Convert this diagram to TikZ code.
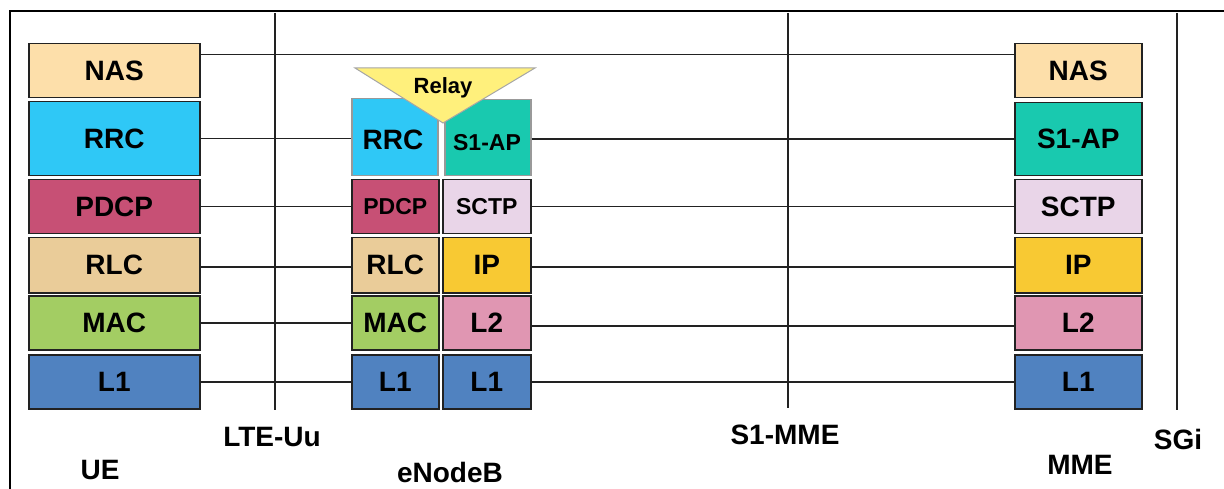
\documentclass[tikz,border=0pt]{standalone}
\usepackage{fontspec}
\setmainfont{Liberation Sans}
\usetikzlibrary{calc}

\definecolor{cNAS}{HTML}{FDDFAA}
\definecolor{cRRC}{HTML}{2FC8F6}
\definecolor{cPDCP}{HTML}{C75075}
\definecolor{cRLC}{HTML}{EACC99}
\definecolor{cMAC}{HTML}{A3CD63}
\definecolor{cLone}{HTML}{5082C0}
\definecolor{cSAP}{HTML}{19C9AF}
\definecolor{cSCTP}{HTML}{E9D5E8}
\definecolor{cIP}{HTML}{F8C933}
\definecolor{cLtwo}{HTML}{E096B2}
\definecolor{cRelay}{HTML}{FFF07C}
\definecolor{lineGray}{HTML}{222222}

\tikzset{
  layer/.style={draw=lineGray, line width=1.5pt, anchor=north west, inner sep=0pt,
    font=\fontsize{28}{30}\selectfont\bfseries, text=black},
  softlayer/.style={layer, draw=black!40},
  smalltext/.style={font=\fontsize{23}{25}\selectfont\bfseries},
  link/.style={draw=lineGray, line width=1.5pt},
  iface/.style={draw=lineGray, line width=1.6pt},
  frameline/.style={draw=black, line width=2pt},
  caption/.style={font=\fontsize{28}{30}\selectfont\bfseries, text=black, inner sep=0pt},
}

\begin{document}
\begin{tikzpicture}[x=1pt, y=-1pt]
\useasboundingbox (0,0) rectangle (1224,489);

% outer frame (top and left edges)
\draw[frameline] (10,489) -- (10,11) -- (1224,11);

% interface lines
\coordinate (uuTop) at (275,13);  \coordinate (uuBot) at (275,410);
\coordinate (smTop) at (788,13);  \coordinate (smBot) at (788,408);
\coordinate (sgTop) at (1177,13); \coordinate (sgBot) at (1177,410);
\draw[iface] (uuTop) -- (uuBot);
\draw[iface] (smTop) -- (smBot);
\draw[iface] (sgTop) -- (sgBot);

% UE stack
\node[layer, fill=cNAS,  minimum width=171pt, minimum height=54pt] (ueNAS)  at (28,43)  {NAS};
\node[layer, fill=cRRC,  minimum width=171pt, minimum height=74pt] (ueRRC)  at (28,101) {RRC};
\node[layer, fill=cPDCP, minimum width=171pt, minimum height=54pt] (uePDCP) at (28,179) {PDCP};
\node[layer, fill=cRLC,  minimum width=171pt, minimum height=55pt] (ueRLC)  at (28,237) {RLC};
\node[layer, fill=cMAC,  minimum width=171pt, minimum height=54pt] (ueMAC)  at (28,295) {MAC};
\node[layer, fill=cLone, minimum width=171pt, minimum height=54pt] (ueLone) at (28,354) {L1};

% eNodeB radio side
\node[softlayer, fill=cRRC, minimum width=86pt, minimum height=77pt] (enRRC) at (351,98) {};
\node[layer, smalltext, fill=cPDCP, minimum width=87pt, minimum height=54pt] (enPDCP) at (351,179) {PDCP};
\node[layer, fill=cRLC,  minimum width=87pt, minimum height=55pt] (enRLC)  at (351,237) {RLC};
\node[layer, fill=cMAC,  minimum width=87pt, minimum height=54pt] (enMAC)  at (351,295) {MAC};
\node[layer, fill=cLone, minimum width=87pt, minimum height=54pt] (enLone) at (351,354) {L1};

% eNodeB S1 side
\node[softlayer, fill=cSAP, minimum width=86pt, minimum height=76pt] (enSAP) at (444,99) {};
\node[layer, smalltext, fill=cSCTP, minimum width=88pt, minimum height=54pt] (enSCTP) at (442,179) {SCTP};
\node[layer, fill=cIP,   minimum width=88pt, minimum height=55pt] (enIP)   at (442,237) {IP};
\node[layer, fill=cLtwo, minimum width=88pt, minimum height=54pt] (enLtwo) at (442,295) {L2};
\node[layer, fill=cLone, minimum width=88pt, minimum height=54pt] (enLoneS) at (442,354) {L1};

% relay between RRC and S1-AP
\coordinate (relA) at (355,68);
\coordinate (relB) at (535,68);
\coordinate (relC) at (443,123);
\draw[fill=cRelay, draw=black!35, line width=1pt, line join=miter] (relA) -- (relB) -- (relC) -- cycle;
\node[caption, font=\fontsize{22}{24}\selectfont\bfseries] (relay) at (443,88) {Relay};
\node[caption] (enRRCtxt) at (393,140) {RRC};
\node[caption, font=\fontsize{23}{25}\selectfont\bfseries] (enSAPtxt) at (487,143) {S1-AP};

% MME stack
\node[layer, fill=cNAS,  minimum width=127pt, minimum height=54pt] (mmNAS)  at (1014,43)  {NAS};
\node[layer, fill=cSAP,  minimum width=127pt, minimum height=73pt] (mmSAP)  at (1014,102) {S1-AP};
\node[layer, fill=cSCTP, minimum width=127pt, minimum height=54pt] (mmSCTP) at (1014,179) {SCTP};
\node[layer, fill=cIP,   minimum width=127pt, minimum height=55pt] (mmIP)   at (1014,237) {IP};
\node[layer, fill=cLtwo, minimum width=127pt, minimum height=54pt] (mmLtwo) at (1014,295) {L2};
\node[layer, fill=cLone, minimum width=127pt, minimum height=54pt] (mmLone) at (1014,354) {L1};

% peer links
\draw[link] ([yshift=16pt]ueNAS.east) -- ([yshift=16pt]mmNAS.west);
\draw[link] (ueRRC.east)  -- (enRRC.west |- ueRRC.east);
\draw[link] (uePDCP.east) -- (enPDCP.west);
\draw[link] ([yshift=-2pt]ueRLC.east) -- ([yshift=-2pt]enRLC.west);
\draw[link] (ueMAC.east)  -- (enMAC.west);
\draw[link] (ueLone.east) -- (enLone.west);

\draw[link] (enSAP.east |- mmSAP.west) -- (mmSAP.west);
\draw[link] (enSCTP.east) -- (mmSCTP.west);
\draw[link] ([yshift=-2pt]enIP.east) -- ([yshift=-2pt]mmIP.west);
\draw[link] ([yshift=-3pt]enLtwo.east) -- ([yshift=-3pt]mmLtwo.west);
\draw[link] (enLoneS.east) -- (mmLone.west);

% interface and entity names
\node[caption] (lteuu) at (272,437) {LTE-Uu};
\node[caption] (ue)    at (100,470) {UE};
\node[caption] (enb)   at (450,472) {eNodeB};
\node[caption] (s1mme) at (785,435) {S1-MME};
\node[caption] (mme)   at (1080,465) {MME};
\node[caption] (sgi)   at (1178,439) {SGi};
\end{tikzpicture}
\end{document}
